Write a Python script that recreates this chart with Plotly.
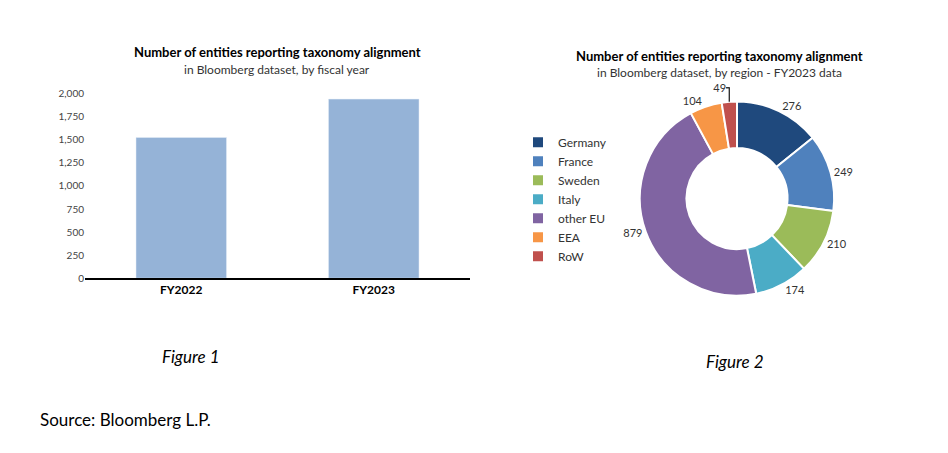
import plotly.graph_objects as go

years = ["FY2022", "FY2023"]
entities = [1525, 1941]
regions = ["Germany", "France", "Sweden", "Italy", "other EU", "EEA", "RoW"]
region_counts = [276, 249, 210, 174, 879, 104, 49]
region_colors = ["#1f497d", "#4f81bd", "#9bbb59", "#4bacc6", "#8064a2", "#f79646", "#c0504d"]
yticks = [0, 250, 500, 750, 1000, 1250, 1500, 1750, 2000]

W, H = 948, 453
OFF = 8
def px(x): return (x - OFF) / W
def py(y): return 1 - (y - OFF) / H

fig = go.Figure()
fig.add_trace(go.Bar(x=years, y=entities, marker_color="#95b3d7", width=0.47,
                     showlegend=False, hoverinfo="x+y"))
fig.add_trace(go.Pie(labels=regions, values=region_counts, hole=0.52, sort=False,
                     direction="clockwise", rotation=0,
                     marker=dict(colors=region_colors, line=dict(color="white", width=2)),
                     textinfo="value", textposition="outside",
                     textfont=dict(size=11, color="#333"),
                     domain=dict(x=[px(637), px(837)], y=[py(297), py(97)])))

fig.update_layout(
    width=W, height=H, margin=dict(l=0, r=0, t=0, b=0),
    paper_bgcolor="white", plot_bgcolor="white",
    font=dict(family="Lato, sans-serif", color="#222"),
    xaxis=dict(domain=[px(85), px(470)], showline=True, linecolor="black", linewidth=1.5,
               tickfont=dict(size=12, color="black", weight="bold"),
               ticks="", fixedrange=True),
    yaxis=dict(domain=[py(279), py(89)], range=[0, 2000], tickvals=yticks,
               tickformat=",", showgrid=False, zeroline=False,
               tickfont=dict(size=10, color="#444")),
    legend=dict(x=px(518), y=py(124), xanchor="left", yanchor="top",
                font=dict(size=12, color="#333"), itemwidth=30, tracegroupgap=0),
    annotations=[
        dict(text="<b>Number of entities reporting taxonomy alignment</b>", x=px(277), y=py(46),
             xanchor="center", yanchor="middle",
             xref="paper", yref="paper", showarrow=False, font=dict(size=13, color="black")),
        dict(text="in Bloomberg dataset, by fiscal year", x=px(277), y=py(64),
             xanchor="center", yanchor="middle",
             xref="paper", yref="paper", showarrow=False, font=dict(size=12, color="#333")),
        dict(text="<b>Number of entities reporting taxonomy alignment</b>", x=px(719), y=py(50),
             xanchor="center", yanchor="middle",
             xref="paper", yref="paper", showarrow=False, font=dict(size=13, color="black")),
        dict(text="in Bloomberg dataset, by region - FY2023 data", x=px(719), y=py(67),
             xanchor="center", yanchor="middle",
             xref="paper", yref="paper", showarrow=False, font=dict(size=12, color="#333")),
        dict(text="<i>Figure 1</i>", x=px(191), y=py(360), xanchor="center", yanchor="middle",
             xref="paper", yref="paper", showarrow=False, font=dict(size=17, color="black")),
        dict(text="<i>Figure 2</i>", x=px(735), y=py(365), xanchor="center", yanchor="middle",
             xref="paper", yref="paper", showarrow=False, font=dict(size=17, color="black")),
        dict(text="Source: Bloomberg L.P.", x=px(38), y=py(424), xanchor="left", yanchor="middle",
             xref="paper", yref="paper", showarrow=False, font=dict(size=17, color="black")),
    ],
)
fig.write_html("out.html")
